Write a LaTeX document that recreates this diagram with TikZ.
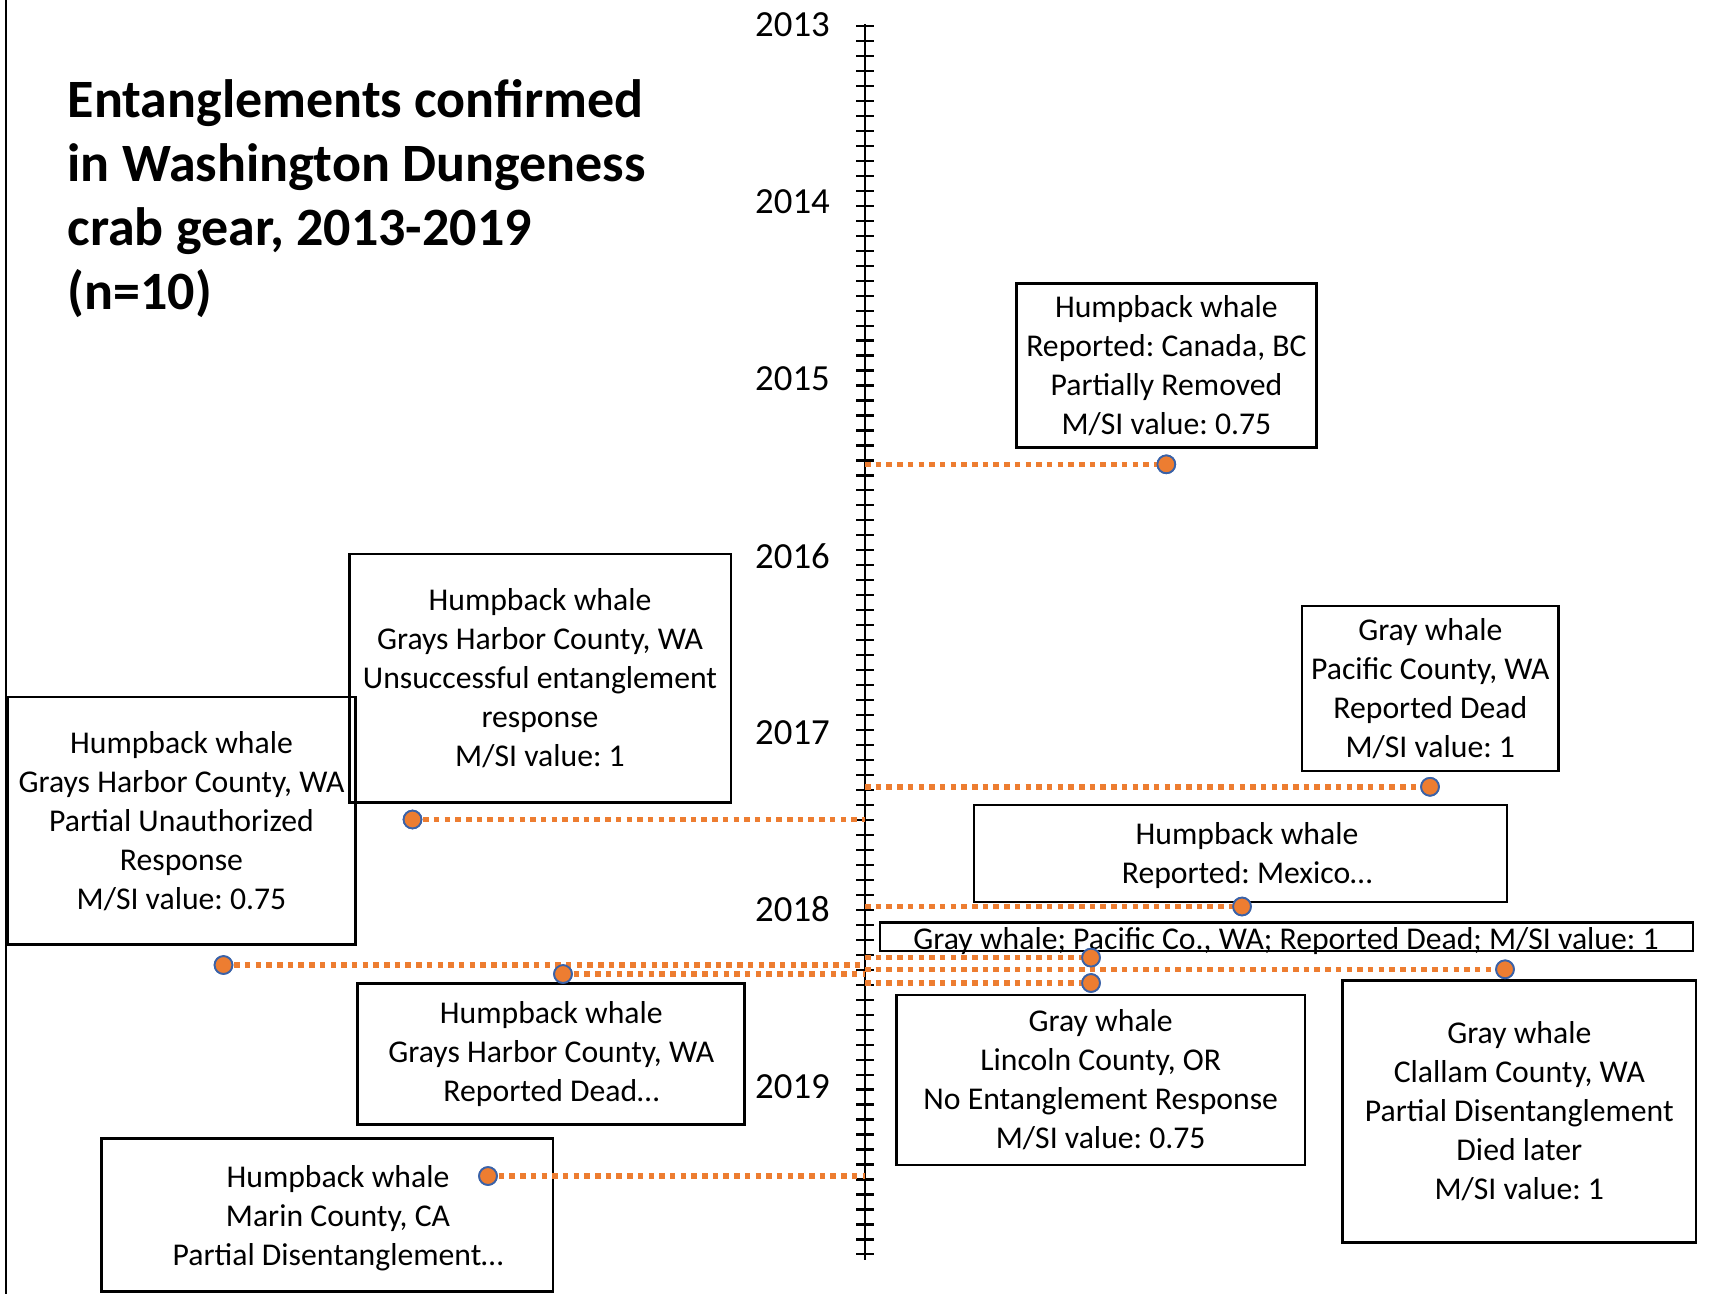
\documentclass[tikz,border=0pt]{standalone}
\usepackage{fontspec}
\setmainfont{Carlito}
\frenchspacing
\definecolor{dotorange}{HTML}{ED7D31}
\definecolor{dotblue}{HTML}{3A62A8}
\tikzset{
  boxtxt/.style={font=\fontsize{31.7}{39}\selectfont},
  box/.style={draw=black, line width=2.7pt, inner sep=0pt, align=center, boxtxt},
  yearlbl/.style={anchor=east, inner sep=0pt, font=\fontsize{36.8}{44}\selectfont},
  dotline/.style={draw=dotorange, line width=5.5pt, dash pattern=on 5.5pt off 5.2pt},
  evdot/.style={circle, fill=dotorange, draw=dotblue, line width=1.8pt, minimum size=17.8pt, inner sep=0pt},
  axisline/.style={draw=black, line width=2.5pt},
  axtick/.style={draw=black, line width=2.2pt},
}
\begin{document}
\begin{tikzpicture}[x=1pt, y=-1pt]
\useasboundingbox (0,0) rectangle (1710,1294);
\fill[white] (0,0) rectangle (1710,1294);
% left border
\coordinate (lbtop) at (6.2,0);
\coordinate (lbbot) at (6.2,1294);
\draw[line width=2.5pt] (lbtop) -- (lbbot);

% title
\node[anchor=north west, inner sep=0pt, align=left,
      font=\fontsize{54}{64}\selectfont\bfseries] (title) at (67.5,79)
  {Entanglements confirmed\\in Washington Dungeness\\crab gear, 2013-2019\\(n=10)};

% axis
\coordinate (axtop) at (865,24);
\coordinate (axbot) at (865,1260);
\draw[axisline] (axtop) -- (axbot);
\foreach \k in {0,...,82}
  \draw[axtick] ({856},{26+14.98*\k}) -- ({874},{26+14.98*\k});
\foreach \yr [count=\i from 0] in {2013,...,2019}
  \node[yearlbl] (y\yr) at ({830},{25+176.9*\i}) {\yr};

% boxes
\node[box, minimum width=300pt, minimum height=163.5pt] (canada) at (1166.4,365.4)
  {Humpback whale\\Reported: Canada, BC\\Partially Removed\\M/SI value: 0.75};
\node[box, minimum width=256.5pt, minimum height=165pt] (graypac) at (1430.3,688.5)
  {Gray whale\\Pacific County, WA\\Reported Dead\\M/SI value: 1};
\node[box, minimum width=381.7pt, minimum height=248.7pt] (unsucc) at (540,678.4)
  {Humpback whale\\Grays Harbor County, WA\\Unsuccessful entanglement\\response\\M/SI value: 1};
\node[box, minimum width=348pt, minimum height=247.5pt] (partial) at (181.5,820.8)
  {Humpback whale\\Grays Harbor County, WA\\Partial Unauthorized\\Response\\M/SI value: 0.75};
\node[draw=black, line width=2.7pt, inner sep=0pt, minimum width=533pt, minimum height=97pt] (mexicobox) at (1240.5,853.5) {};
\node[inner sep=0pt, align=center, boxtxt] (mexico) at (1247,856)
  {Humpback whale\\Reported: Mexico…};
\node[draw=black, line width=2.7pt, inner sep=0pt, minimum width=813pt, minimum height=28.3pt] (single) at (1286.5,936.9) {};
\node[anchor=base, inner sep=0pt, boxtxt] (singletxt) at (1286,949)
  {Gray whale; Pacific Co., WA; Reported Dead; M/SI value: 1};
\node[box, minimum width=387pt, minimum height=140.7pt] (dead) at (551.3,1054)
  {Humpback whale\\Grays Harbor County, WA\\Reported Dead…};
\node[box, minimum width=408.5pt, minimum height=170pt] (lincoln) at (1100.7,1080)
  {Gray whale\\Lincoln County, OR\\No Entanglement Response\\M/SI value: 0.75};
\node[box, minimum width=353.5pt, minimum height=261.7pt] (clallam) at (1519.3,1111.4)
  {Gray whale\\Clallam County, WA\\Partial Disentanglement\\Died later\\M/SI value: 1};
\node[draw=black, line width=2.7pt, inner sep=0pt, minimum width=451.6pt, minimum height=152.7pt] (marinbox) at (327.2,1215) {};
\node[inner sep=0pt, align=center, boxtxt] (marin) at (338,1218)
  {Humpback whale\\Marin County, CA\\Partial Disentanglement…};

% axis anchor points
\coordinate (a1) at (865,464.3);
\coordinate (a2) at (865,786.8);
\coordinate (a3) at (865,819.5);
\coordinate (a4) at (865,906.5);
\coordinate (a5) at (865,957.6);
\coordinate (a6) at (865,969.3);
\coordinate (a7) at (865,983);
\coordinate (a8) at (865,965);
\coordinate (a9) at (865,974);
\coordinate (a10) at (865,1176);

% event dots (positions)
\node[evdot] (d1) at (1166.3,464.3) {};
\node[evdot] (d2) at (1430,786.8) {};
\node[evdot] (d3) at (412.5,819.5) {};
\node[evdot] (d4) at (1242,906.5) {};
\node[evdot] (d5) at (1091,957.6) {};
\node[evdot] (d6) at (1505,969.3) {};
\node[evdot] (d7) at (1091,983) {};
\node[evdot] (d8) at (223.5,965) {};
\node[evdot] (d9) at (563,974) {};
\node[evdot] (d10) at (488,1176) {};

% connectors
\draw[dotline] (a1) -- (d1.center);
\draw[dotline] (a2) -- (d2.center);
\draw[dotline] (d3.center) -- (a3);
\draw[dotline] (a4) -- (d4.center);
\draw[dotline] (a5) -- (d5.center);
\draw[dotline] (a6) -- (d6.center);
\draw[dotline] (a7) -- (d7.center);
\draw[dotline] (d8.center) -- (a8);
\draw[dotline] (d9.center) -- (a9);
\draw[dotline] (d10.center) -- (a10);

% redraw dots on top
\foreach \d in {d1,d2,d3,d4,d5,d6,d7,d8,d9,d10}
  \node[evdot] at (\d) {};
\end{tikzpicture}
\end{document}
